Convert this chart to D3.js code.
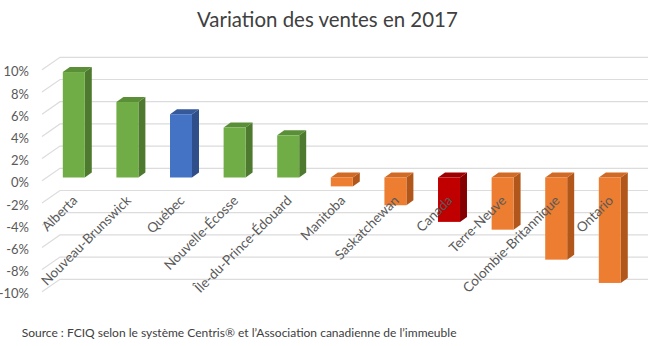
<!DOCTYPE html>
<html>
<head>
<meta charset="utf-8">
<script src="https://cdnjs.cloudflare.com/ajax/libs/d3/7.8.5/d3.min.js"></script>
<style>
  html, body { margin: 0; padding: 0; background: #fff; }
  svg { display: block; font-family: Lato, "Liberation Sans", sans-serif; }
</style>
</head>
<body>
<svg id="chart" width="648" height="346"></svg>
<script>
// Sales variation by province, 2017 (%)
const regions = ["Alberta", "Nouveau-Brunswick", "Québec", "Nouvelle-Écosse",
  "Île-du-Prince-Édouard", "Manitoba", "Saskatchewan", "Canada",
  "Terre-Neuve", "Colombie-Britannique", "Ontario"];
const variation = [9.5, 6.8, 5.7, 4.5, 3.8, -0.8, -2.5, -4.0, -4.7, -7.4, -9.5];
const yTicks = [10, 8, 6, 4, 2, 0, -2, -4, -6, -8, -10];

const title = "Variation des ventes en 2017";
const source = "Source : FCIQ selon le système Centris® et l’Association canadienne de l’immeuble";

const W = 648, H = 346;
const svg = d3.select("#chart");

// 3D projection offsets
const wallX0 = 60;          // left edge of back wall
const sideDX = -18, sideDY = 12.5; // side wall: back -> front
const barDX = 7, barDY = -5;       // bar depth

// Back-wall scale and front bar scale
const yBack = d3.scaleLinear().domain([-10, 10]).range([279.3, 57.3]);
const yFront = d3.scaleLinear().domain([-10, 10]).range([288.5, 66.5]);
const x = d3.scaleBand().domain(regions).range([47, 636.6])
  .paddingInner(0.59).paddingOuter(0.295);

const palette = { green: "#70ad47", blue: "#4472c4", red: "#c00000", orange: "#ed7d31" };
const shade = { green: ["#5a8f37", "#4e7a2f"], blue: ["#36599c", "#2f4f8a"],
  red: ["#9e0000", "#850000"], orange: ["#d06a25", "#b2571b"] };
function tone(name, v) {
  if (name === "Québec") return "blue";
  if (name === "Canada") return "red";
  return v >= 0 ? "green" : "orange";
}

// Gridlines: side wall diagonals + back wall horizontals
const grid = svg.append("g").attr("stroke", "#dcdcdc").attr("stroke-width", 1.2).attr("fill", "none");
yTicks.forEach(t => {
  const yb = yBack(t);
  grid.append("path")
    .attr("d", `M${wallX0 + sideDX},${yb + sideDY}L${wallX0},${yb}L${W},${yb}`);
});

// Y axis labels
const yLabel = d3.scaleLinear().domain(yBack.domain()).range(yBack.range().map(v => v + 14.4));
const yAxis = svg.append("g").attr("transform", "translate(29,0)")
  .call(d3.axisLeft(yLabel).tickValues(yTicks).tickSize(0).tickPadding(0).tickFormat(d => d + "%"));
yAxis.select(".domain").remove();
yAxis.selectAll("text").attr("fill", "#595959").attr("font-size", 13)
  .attr("font-family", "Lato, 'Liberation Sans', sans-serif");

// Bars as 3D boxes
const data = regions.map((r, i) => ({ r, v: variation[i] }));
const bars = svg.append("g").selectAll("g").data(data).join("g");
bars.each(function(d) {
  const g = d3.select(this);
  const t = tone(d.r, d.v);
  const x0 = x(d.r), w = x.bandwidth();
  const yT = yFront(Math.max(d.v, 0)), yB = yFront(Math.min(d.v, 0));
  g.append("path").attr("fill", shade[t][1])
    .attr("d", `M${x0 + w},${yT}L${x0 + w + barDX},${yT + barDY}L${x0 + w + barDX},${yB + barDY}L${x0 + w},${yB}Z`);
  g.append("path").attr("fill", shade[t][0])
    .attr("d", `M${x0},${yT}L${x0 + barDX},${yT + barDY}L${x0 + w + barDX},${yT + barDY}L${x0 + w},${yT}Z`);
  g.append("rect").attr("x", x0).attr("y", yT).attr("width", w).attr("height", yB - yT)
    .attr("fill", palette[t]);
});

// Category labels, rotated
svg.append("g").selectAll("text").data(regions).join("text")
  .attr("transform", d => `translate(${x(d) + x.bandwidth() / 2 + 1},198) rotate(-45)`)
  .attr("text-anchor", "end").attr("dy", "0.35em")
  .attr("font-size", 13.5).attr("fill", "#595959")
  .text(d => d);

// Title and source, sized to their measured widths
function fitText(sel, targetWidth) {
  const len = sel.node().getComputedTextLength();
  const fs = parseFloat(sel.attr("font-size"));
  sel.attr("font-size", fs * targetWidth / len);
}
const tt = svg.append("text").attr("x", 327.4).attr("y", 20).attr("dy", "0.35em")
  .attr("text-anchor", "middle").attr("font-size", 20).attr("fill", "#404040").text(title);
fitText(tt, 261);
const st = svg.append("text").attr("x", 21.7).attr("y", 332.7).attr("dy", "0.35em")
  .attr("font-size", 11).attr("fill", "#404040").text(source);
fitText(st, 435);
</script>
</body>
</html>
